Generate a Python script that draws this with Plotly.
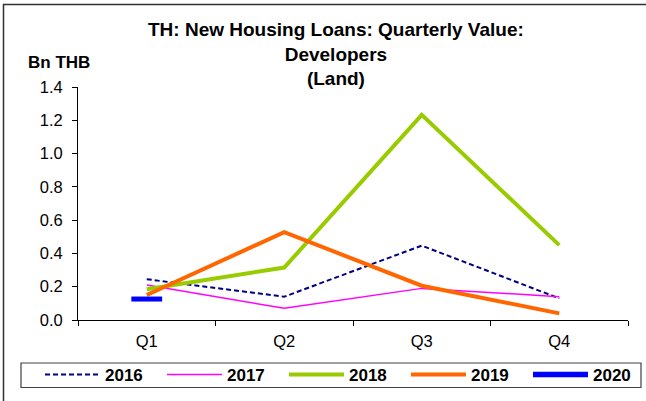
import plotly.graph_objects as go

quarters = ["Q1", "Q2", "Q3", "Q4"]
y2016 = [0.245, 0.14, 0.447, 0.13]
y2017 = [0.21, 0.07, 0.19, 0.14]
y2018 = [0.185, 0.315, 1.233, 0.45]
y2019 = [0.15, 0.528, 0.206, 0.04]
q2020 = ["Q1"]
y2020 = [0.126]
y_ticks = [0.0, 0.2, 0.4, 0.6, 0.8, 1.0, 1.2, 1.4]

FONT = "Liberation Sans, Arial, sans-serif"

fig = go.Figure()
fig.add_trace(go.Scatter(x=quarters, y=y2016, mode="lines", name="2016",
                         line=dict(color="#000080", width=2, dash="5px,3px")))
fig.add_trace(go.Scatter(x=quarters, y=y2017, mode="lines", name="2017",
                         line=dict(color="#FF00FF", width=1.5)))
fig.add_trace(go.Scatter(x=quarters, y=y2018, mode="lines", name="2018",
                         line=dict(color="#99CC00", width=4)))
fig.add_trace(go.Scatter(x=quarters, y=y2019, mode="lines", name="2019",
                         line=dict(color="#FF6600", width=4)))
fig.add_trace(go.Scatter(x=q2020, y=y2020, mode="lines", name="2020",
                         line=dict(color="#0000FF", width=5.5)))
fig.add_trace(go.Scatter(x=q2020, y=y2020, mode="markers", showlegend=False,
                         marker=dict(symbol="line-ew", size=22,
                                     line=dict(color="#0000FF", width=5))))

fig.update_layout(
    width=646, height=401,
    margin=dict(l=78, r=18, t=87, b=81, autoexpand=False),
    paper_bgcolor="white", plot_bgcolor="white",
    font=dict(family=FONT, size=16, color="black"),
    title=dict(text="<b>TH: New Housing Loans: Quarterly Value:<br>Developers<br>(Land)</b>",
               x=0.52, xref="container", xanchor="center",
               y=1 - 36 / 401, yref="container", yanchor="top",
               font=dict(family=FONT, size=19, color="black")),
    showlegend=True,
    legend=dict(orientation="h", x=(40 - 78) / 550, xanchor="left",
                y=(320 - 375) / 233, yanchor="middle",
                font=dict(family=FONT, size=17, color="black", weight="bold"),
                itemwidth=55, entrywidth=52, entrywidthmode="pixels",
                bgcolor="rgba(0,0,0,0)", borderwidth=0,
                traceorder="normal"),
    xaxis=dict(type="category", categoryarray=quarters, range=[-0.5, 3.5],
               showgrid=False, zeroline=False, showline=True,
               linecolor="black", linewidth=1,
               ticks="outside", tickson="boundaries", ticklen=5,
               tickcolor="black", ticklabelstandoff=6,
               tickfont=dict(family=FONT, size=16.5)),
    yaxis=dict(range=[0, 1.4], tickvals=y_ticks,
               ticktext=[f"{v:.1f}" for v in y_ticks],
               showgrid=False, zeroline=False, showline=True,
               linecolor="black", linewidth=1,
               ticks="outside", ticklen=5, tickcolor="black",
               ticklabelstandoff=6,
               tickfont=dict(family=FONT, size=16.5)),
    annotations=[dict(text="<b>Bn THB</b>", xref="paper", yref="paper",
                      x=(26 - 78) / 550, y=(320 - 63) / 233,
                      xanchor="left", yanchor="middle", showarrow=False,
                      font=dict(family=FONT, size=17, color="black"))],
    shapes=[
        dict(type="rect", xref="paper", yref="paper",
             x0=(21 - 78) / 550, x1=(641 - 78) / 550,
             y0=(320 - 363) / 233, y1=(320 - 387.5) / 233,
             line=dict(color="#404040", width=1.2), layer="below"),
        dict(type="rect", xref="paper", yref="paper",
             x0=(3.5 - 78) / 550, x1=(660 - 78) / 550,
             y0=(320 - 4.5) / 233, y1=(320 - 420) / 233,
             line=dict(color="#303030", width=1.5), layer="above"),
    ],
)

fig.write_html("out.html", config={"displayModeBar": False},
               post_script="document.body.style.margin='0';document.body.style.overflow='hidden';")
